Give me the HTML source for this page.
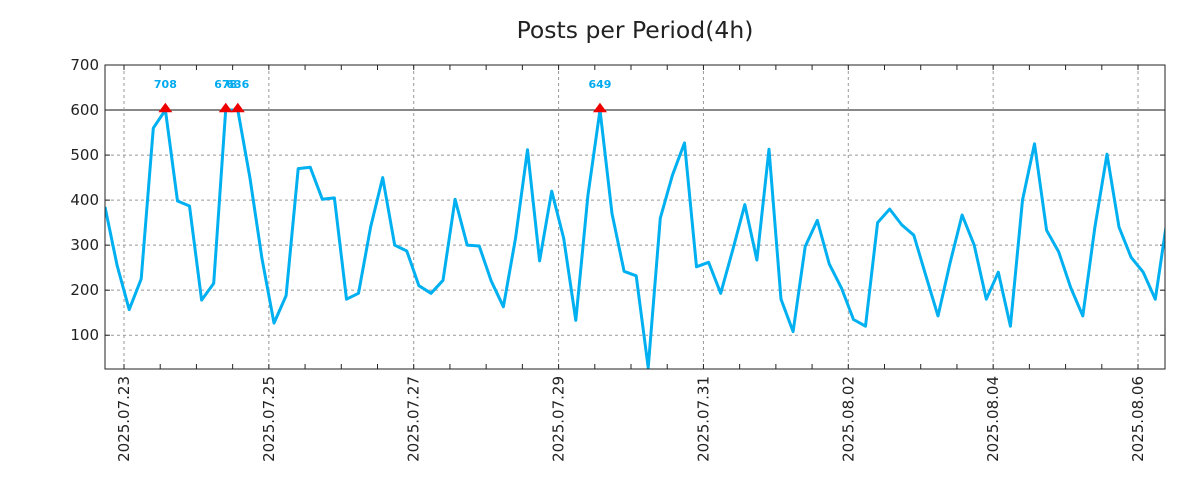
<!DOCTYPE html>
<html><head><meta charset="utf-8"><style>
html,body{margin:0;padding:0;background:#fff;}
svg{display:block;font-family:"DejaVu Sans","Liberation Sans",sans-serif;}
</style></head><body>
<svg id="chart" width="1200" height="500" viewBox="0 0 1200 500">
<text x="635" y="38" text-anchor="middle" font-size="23.5" fill="#222">Posts per Period(4h)</text>
<g id="grid"></g>
<g id="axes"></g>
<g id="series"></g>
<rect x="105" y="65" width="1060" height="304" fill="none" stroke="#222" stroke-width="1"/>
</svg>
<script>
const values = [385,255,157,225,560,708,398,387,178,215,678,636,450,270,127,188,470,473,402,405,180,193,340,450,300,287,210,193,222,402,300,298,220,163,315,512,265,420,315,133,410,649,370,242,232,28,360,455,527,252,262,193,290,390,267,513,180,108,297,355,258,205,135,120,350,380,345,322,232,143,260,367,300,180,240,120,400,525,333,285,205,143,340,502,340,273,240,180,360];
const yTicks = [100,200,300,400,500,600,700];
const xTickLabels = ["2025.07.23","2025.07.25","2025.07.27","2025.07.29","2025.07.31","2025.08.02","2025.08.04","2025.08.06"];
const threshold = 600;
const startOffsetDays = -0.262;
const periodDays = 1/6;

const X0=105,X1=1165,Y0=65,Y1=369;
const dayPx = 72.43, day0X = 124;
function xDay(d){return day0X + d*dayPx;}
function xIdx(i){return xDay(startOffsetDays + i*periodDays);}
const yMin=25, yMax=700;
function y(v){return Y1 - (v-yMin)/(yMax-yMin)*(Y1-Y0);}
const NS="http://www.w3.org/2000/svg";
function mk(tag,attrs,parent){const e=document.createElementNS(NS,tag);for(const k in attrs)e.setAttribute(k,attrs[k]);parent.appendChild(e);return e;}
const grid=document.getElementById('grid'),axes=document.getElementById('axes'),series=document.getElementById('series');

yTicks.forEach(v=>{
  const yy=y(v);
  if(v!==threshold && v<yMax){
    const l=mk('line',{x1:X0,x2:X1,y1:yy,y2:yy,stroke:'#999','stroke-dasharray':'3,3'},grid);
    
    
  }
  const t=mk('text',{x:99,y:yy+5,'text-anchor':'end','font-size':'15',fill:'#222'},axes);
  t.textContent=v;
  
  
  mk('line',{x1:X0,x2:X0+5,y1:yy,y2:yy,stroke:'#222'},axes);
  mk('line',{x1:X1-5,x2:X1,y1:yy,y2:yy,stroke:'#222'},axes);
});
const th=mk('line',{x1:X0,x2:X1,y1:y(threshold),y2:y(threshold),stroke:'#111','stroke-width':1},grid);



for(let h=0;h<=30;h++){
  const xx=xDay(h/2);
  if(xx<X0||xx>X1)continue;
  mk('line',{x1:xx,x2:xx,y1:Y1,y2:Y1-5,stroke:'#222'},axes);
  mk('line',{x1:xx,x2:xx,y1:Y0,y2:Y0+5,stroke:'#222'},axes);
}
xTickLabels.forEach((lab,i)=>{
  const xx=xDay(i*2);
  const g=mk('line',{x1:xx,x2:xx,y1:Y0,y2:Y1,stroke:'#999','stroke-dasharray':'3,3'},grid);
  
  
  const t=mk('text',{x:0,y:0,'text-anchor':'end','font-size':'15',fill:'#222',transform:`translate(${xx+5},376) rotate(-90)`},axes);
  t.textContent=lab;
  
  
});

const clipId='pc';
const defs=mk('defs',{},series);
const cp=mk('clipPath',{id:clipId},defs);
mk('rect',{x:X0,y:Y0,width:X1-X0,height:Y1-Y0},cp);
const pts=values.map((v,i)=>`${xIdx(i).toFixed(1)},${y(Math.min(v,threshold)).toFixed(1)}`).join(' ');
const pl=mk('polyline',{points:pts,fill:'none',stroke:'#00b0f0','stroke-width':3,'stroke-linejoin':'round','clip-path':`url(#${clipId})`},series);



values.forEach((v,i)=>{
  if(v<=threshold)return;
  const xx=xIdx(i),yy=y(threshold);
  const m=mk('polygon',{points:`${xx-5.5},${yy+1.5} ${xx+5.5},${yy+1.5} ${xx},${yy-6}`,fill:'#e00',stroke:'#e00','stroke-width':1.5},series);
  
  
  const t=mk('text',{x:xx,y:88,'text-anchor':'middle','font-size':'11','font-weight':'bold',fill:'#00aaee'},series);
  t.textContent=v;
  
  
});
</script>
</body></html>
